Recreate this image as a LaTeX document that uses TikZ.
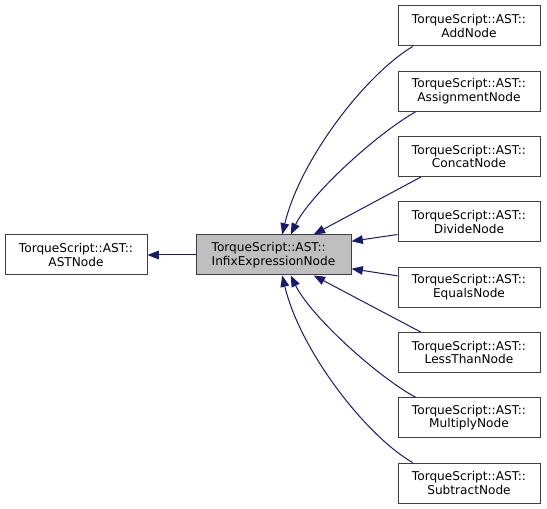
\documentclass[tikz,border=0pt]{standalone}
\usepackage{fontspec}
\setmainfont{DejaVu Sans}
\usetikzlibrary{arrows.meta}
\definecolor{edgeblue}{RGB}{25,25,112}
\definecolor{boxgray}{RGB}{191,191,191}
\definecolor{boxline}{RGB}{64,64,64}

\begin{document}
\begin{tikzpicture}[x=0.75pt,y=0.75pt,yscale=-1,xscale=1,
		classbox/.style={draw=boxline, line width=0.75pt, fill=white, minimum width=106.5pt, minimum height=30pt, inner sep=1pt, align=center, font=\fontsize{9.1}{10}\selectfont},
		inherit/.style={draw=edgeblue, line width=0.75pt, {Triangle[length=8.5pt,width=6.5pt]}-}]
		%set diagram size to 547 x 509
		\useasboundingbox (0,0) rectangle (547,509);
		
		%Shape: Base class
		\node [classbox] (astnode) at (76,255) {TorqueScript::AST::\\ASTNode};
		%Shape: Infix class
		\node [classbox, fill=boxgray, minimum width=116.25pt, align=left] (infix) at (273.5,255) {TorqueScript::AST::\\InfixExpressionNode};
		%Shape: Derived classes
		\node [classbox] (addnode) at (469,26) {TorqueScript::AST::\\AddNode};
		\node [classbox] (assignnode) at (469,91.3) {TorqueScript::AST::\\AssignmentNode};
		\node [classbox] (concatnode) at (469,156.6) {TorqueScript::AST::\\ConcatNode};
		\node [classbox] (dividenode) at (469,221.9) {TorqueScript::AST::\\DivideNode};
		\node [classbox] (equalsnode) at (469,287.2) {TorqueScript::AST::\\EqualsNode};
		\node [classbox] (lessnode) at (469,352.5) {TorqueScript::AST::\\LessThanNode};
		\node [classbox] (multnode) at (469,417.8) {TorqueScript::AST::\\MultiplyNode};
		\node [classbox] (subnode) at (469,483.1) {TorqueScript::AST::\\SubtractNode};
		
		%Edge: base
		\draw [inherit] (astnode) -- (infix);
		%Edge: curved ones
		\draw [inherit] (infix.67) .. controls (300,160) and (365,75) .. (addnode.200);
		\draw [inherit] (infix.50) .. controls (310,195) and (375,135) .. (assignnode.201);
		\draw [inherit] (infix.-50) .. controls (310,315) and (375,375) .. (multnode.159);
		\draw [inherit] (infix.-67) .. controls (300,350) and (365,435) .. (subnode.160);
		%Edge: straight ones
		\draw [inherit] (infix.27) -- (concatnode.203);
		\draw [inherit] (infix.10) -- (dividenode.190);
		\draw [inherit] (infix.-10) -- (equalsnode.171);
		\draw [inherit] (infix.-27) -- (lessnode.157);
	\end{tikzpicture}
\end{document}
